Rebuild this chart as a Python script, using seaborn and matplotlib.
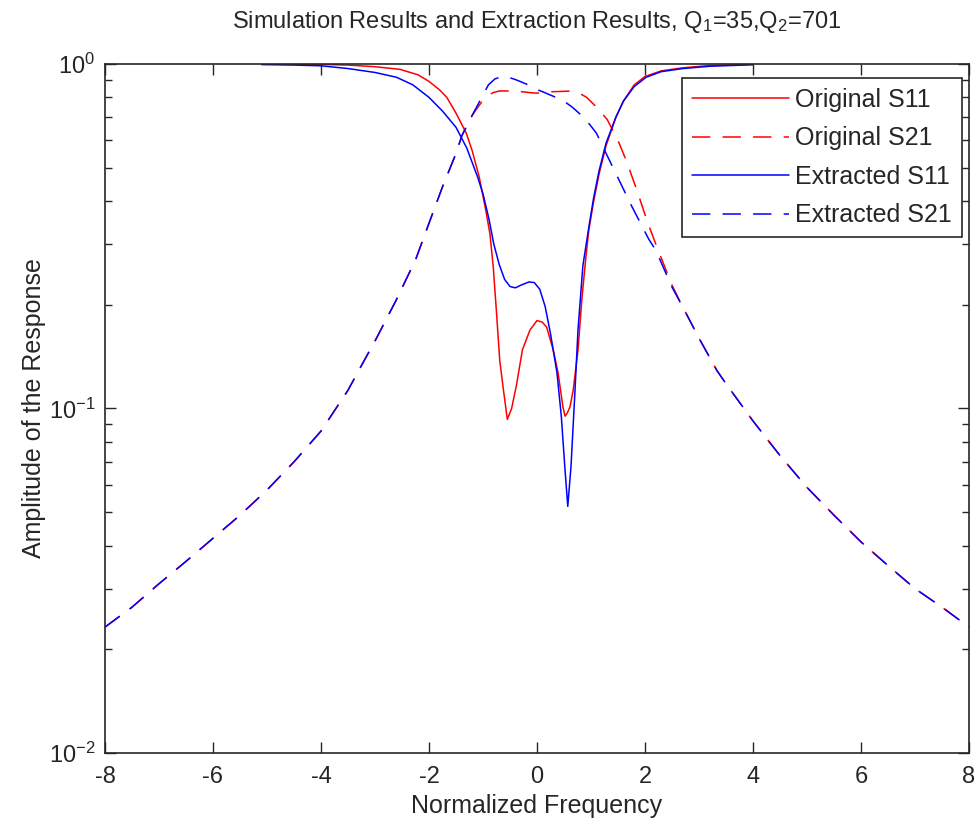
import matplotlib
matplotlib.use("Agg")
import matplotlib.pyplot as plt
import seaborn as sns
import pandas as pd
from matplotlib.ticker import LogLocator, FixedLocator

# Original S11 (simulation)
orig_s11_x = [-5.1, -4.0, -3.5, -3.0, -2.54, -2.2, -2.0, -1.8, -1.67, -1.5, -1.31, -1.2, -1.07,
              -0.94, -0.87, -0.81, -0.76, -0.69, -0.63, -0.55, -0.47, -0.38, -0.27, -0.13, 0.0,
              0.1, 0.18, 0.3, 0.39, 0.48, 0.52, 0.56, 0.61, 0.67, 0.76, 0.83, 0.9, 0.96, 1.05,
              1.15, 1.28, 1.46, 1.6, 1.8, 2.0, 2.3, 2.7, 3.2, 4.0]
orig_s11_y = [0.999, 0.997, 0.993, 0.982, 0.965, 0.93, 0.89, 0.84, 0.80, 0.72, 0.63, 0.56, 0.47,
              0.37, 0.32, 0.257, 0.20, 0.138, 0.116, 0.093, 0.10, 0.117, 0.148, 0.169, 0.18,
              0.178, 0.172, 0.148, 0.127, 0.101, 0.095, 0.097, 0.101, 0.113, 0.148, 0.207, 0.27,
              0.33, 0.40, 0.48, 0.58, 0.70, 0.78, 0.87, 0.92, 0.955, 0.975, 0.99, 0.998]

# Original S21 (simulation)
orig_s21_x = [-8.0, -7.5, -7.0, -6.5, -6.0, -5.5, -5.0, -4.5, -4.0, -3.5, -3.22, -3.0, -2.61,
              -2.25, -2.0, -1.75, -1.5, -1.39, -1.25, -1.12, -1.0, -0.94, -0.82, -0.7, -0.4,
              -0.1, 0.0, 0.2, 0.67, 0.8, 0.92, 1.1, 1.3, 1.5, 1.67, 1.85, 2.04, 2.2, 2.5, 2.7,
              3.0, 3.33, 3.5, 4.0, 4.5, 5.0, 5.5, 6.0, 6.5, 7.0, 7.5, 8.0]
orig_s21_y = [0.0232, 0.0265, 0.031, 0.036, 0.042, 0.049, 0.058, 0.070, 0.086, 0.113, 0.136, 0.157,
              0.206, 0.27, 0.345, 0.44, 0.55, 0.62, 0.69, 0.74, 0.785, 0.80, 0.825, 0.835, 0.835,
              0.825, 0.823, 0.83, 0.835, 0.82, 0.80, 0.75, 0.69, 0.60, 0.516, 0.43, 0.35, 0.30,
              0.228, 0.197, 0.16, 0.129, 0.118, 0.092, 0.073, 0.059, 0.049, 0.041, 0.035, 0.030,
              0.0265, 0.0232]

# Extracted S11
ext_s11_x = [-5.1, -4.5, -4.0, -3.5, -3.0, -2.6, -2.3, -2.0, -1.75, -1.5, -1.3, -1.1, -1.0,
             -0.89, -0.8, -0.7, -0.6, -0.5, -0.4, -0.3, -0.15, -0.05, 0.05, 0.15, 0.25, 0.37,
             0.45, 0.52, 0.57, 0.63, 0.7, 0.76, 0.85, 0.96, 1.05, 1.15, 1.28, 1.46, 1.6, 1.8,
             2.02, 2.3, 2.7, 3.2, 4.0]
ext_s11_y = [0.996, 0.993, 0.988, 0.97, 0.945, 0.915, 0.87, 0.80, 0.73, 0.655, 0.57, 0.47, 0.42,
             0.355, 0.30, 0.262, 0.237, 0.226, 0.224, 0.228, 0.233, 0.232, 0.222, 0.198, 0.165, 0.127,
             0.095, 0.066, 0.052, 0.068, 0.11, 0.17, 0.26, 0.336, 0.41, 0.49, 0.59, 0.70, 0.78, 0.86,
             0.915, 0.95, 0.97, 0.985, 0.995]

# Extracted S21
ext_s21_x = [-8.0, -7.5, -7.0, -6.5, -6.0, -5.5, -5.0, -4.5, -4.0, -3.5, -3.22, -3.0, -2.61,
             -2.25, -2.0, -1.75, -1.5, -1.39, -1.3, -1.2, -1.06, -0.9, -0.78, -0.65, -0.5, -0.39,
             -0.2, -0.07, 0.15, 0.35, 0.5, 0.65, 0.8, 0.9, 1.0, 1.1, 1.28, 1.52, 1.76, 2.07, 2.2,
             2.5, 2.7, 3.0, 3.33, 3.5, 4.0, 4.5, 5.0, 5.5, 6.0, 6.5, 7.0, 7.5, 8.0]
ext_s21_y = [0.0232, 0.0265, 0.031, 0.036, 0.042, 0.049, 0.058, 0.070, 0.086, 0.113, 0.136, 0.157,
             0.206, 0.27, 0.345, 0.44, 0.55, 0.62, 0.66, 0.71, 0.78, 0.87, 0.905, 0.92, 0.912, 0.90,
             0.875, 0.852, 0.825, 0.80, 0.78, 0.75, 0.715, 0.69, 0.66, 0.63, 0.55, 0.46, 0.385, 0.31,
             0.288, 0.225, 0.197, 0.16, 0.129, 0.118, 0.092, 0.073, 0.059, 0.049, 0.041, 0.035,
             0.030, 0.0265, 0.0232]

series_names = ["Original S11", "Original S21", "Extracted S11", "Extracted S21"]
x_ticks = [-8, -6, -4, -2, 0, 2, 4, 6, 8]


def main():
    sns.set_style("ticks")
    plt.rcParams["font.family"] = ["Liberation Sans", "DejaVu Sans"]
    plt.rcParams["mathtext.fontset"] = "custom"
    plt.rcParams["mathtext.rm"] = "Liberation Sans"
    plt.rcParams["mathtext.it"] = "Liberation Sans"
    plt.rcParams["axes.unicode_minus"] = False

    fig = plt.figure(figsize=(9.79, 8.22), dpi=100)
    ax = fig.add_axes([105 / 979, 1 - 753 / 822, 864 / 979, 689 / 822])

    data = [(orig_s11_x, orig_s11_y, "red", "-"),
            (orig_s21_x, orig_s21_y, "red", (0, (12, 8))),
            (ext_s11_x, ext_s11_y, "blue", "-"),
            (ext_s21_x, ext_s21_y, "blue", (0, (12, 8)))]
    for name, (xs, ys, col, ls) in zip(series_names, data):
        df = pd.DataFrame({"x": xs, "y": ys})
        sns.lineplot(data=df, x="x", y="y", ax=ax, color=col, linestyle=ls,
                     linewidth=1.1, sort=False, estimator=None, label=name)

    ax.set_yscale("log")
    ax.set_xlim(-8, 8)
    ax.set_ylim(0.01, 1)
    ax.xaxis.set_major_locator(FixedLocator(x_ticks))
    ax.set_xticklabels([str(t) for t in x_ticks])
    ax.yaxis.set_major_locator(LogLocator(base=10, numticks=5))
    ax.yaxis.set_minor_locator(LogLocator(base=10, subs=range(2, 10), numticks=20))

    ax.tick_params(which="both", direction="in", top=True, right=True, labelsize=17,
                   color="#262626", labelcolor="#262626")
    ax.tick_params(axis="x", pad=9)
    ax.tick_params(axis="y", pad=7)
    ax.tick_params(which="major", length=8, width=1)
    ax.tick_params(which="minor", length=5, width=1)
    for sp in ax.spines.values():
        sp.set_visible(True)
        sp.set_color("#262626")
        sp.set_linewidth(1.2)

    ax.set_xlabel("Normalized Frequency", fontsize=18, color="#262626", labelpad=5)
    ax.set_ylabel("Amplitude of the Response", fontsize=18, color="#262626", labelpad=2)
    ax.set_title("Simulation Results and Extraction Results, Q$_1$=35,Q$_2$=701",
                 fontsize=17, color="#262626", pad=26)

    leg = ax.legend(loc="upper right", bbox_to_anchor=(0.992, 0.98), borderaxespad=0,
                    fontsize=18, handlelength=3.9, handletextpad=0.25, labelspacing=0.58,
                    fancybox=False, framealpha=1, edgecolor="#262626", borderpad=0.4)
    leg.get_frame().set_linewidth(1.2)
    for t in leg.get_texts():
        t.set_color("#262626")

    fig.savefig("out.png", dpi=100)


if __name__ == "__main__":
    main()
